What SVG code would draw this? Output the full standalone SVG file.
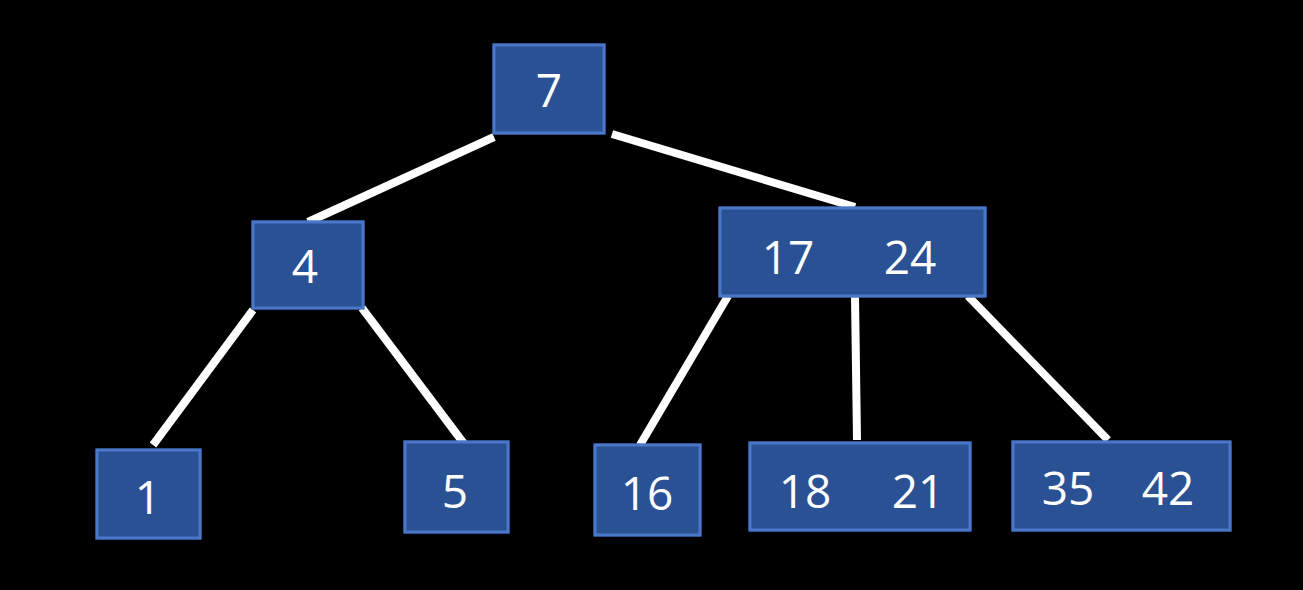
<svg xmlns="http://www.w3.org/2000/svg" width="1303" height="590" viewBox="0 0 1303 590">
<style>
.n rect{fill:#2c5194;stroke:#4a78c8;stroke-width:3;filter:url(#g)}
.n text{fill:#fff;font-family:"Open Sans","DejaVu Sans",sans-serif;font-size:46px;text-anchor:middle;dominant-baseline:central}
#edges line{stroke:#fff;stroke-width:8}
</style>
<defs><filter id="g" x="-30%" y="-30%" width="160%" height="160%"><feGaussianBlur in="SourceAlpha" stdDeviation="4"/><feFlood flood-color="#3d6fd8" flood-opacity="0.8"/><feComposite operator="in" in2="SourceGraphic"/><feGaussianBlur stdDeviation="0"/><feMerge><feMergeNode/><feMergeNode in="SourceGraphic"/></feMerge></filter></defs>
<rect width="1303" height="590" fill="#000"/>
<g id="edges">
<line x1="494" y1="137" x2="308" y2="222"/>
<line x1="612" y1="134" x2="855" y2="207"/>
<line x1="253" y1="310" x2="153" y2="445"/>
<line x1="362" y1="308" x2="465" y2="445"/>
<line x1="728" y1="296" x2="640" y2="445"/>
<line x1="855" y1="296" x2="857" y2="440"/>
<line x1="968" y1="296" x2="1108" y2="440"/>
</g>
<g id="n7" class="n"><rect x="494" y="45" width="110" height="88"/><text x="549" y="89">7</text></g>
<g id="n4" class="n"><rect x="253" y="222" width="110" height="86"/><text x="305" y="265">4</text></g>
<g id="n1724" class="n"><rect x="720" y="208" width="265" height="88"/><text x="788" y="256">17</text><text x="910" y="256">24</text></g>
<g id="n1" class="n"><rect x="97" y="450" width="103" height="88"/><text x="148" y="496">1</text></g>
<g id="n5" class="n"><rect x="405" y="442" width="103" height="90"/><text x="455" y="490">5</text></g>
<g id="n16" class="n"><rect x="595" y="445" width="105" height="90"/><text x="647" y="492">16</text></g>
<g id="n1821" class="n"><rect x="750" y="443" width="220" height="87"/><text x="805" y="490">18</text><text x="918" y="490">21</text></g>
<g id="n3542" class="n"><rect x="1013" y="442" width="217" height="88"/><text x="1068" y="487">35</text><text x="1168" y="487">42</text></g>
</svg>
